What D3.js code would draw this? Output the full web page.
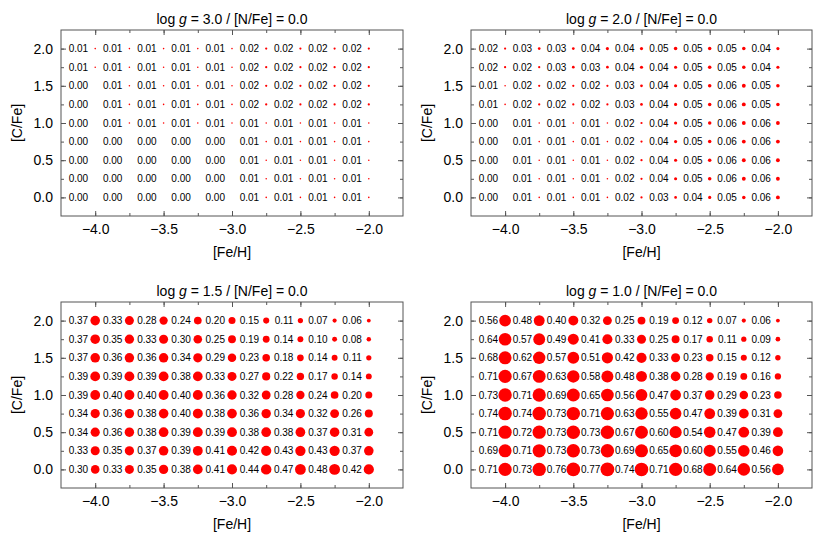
<!DOCTYPE html>
<html lang="en">
<head>
<meta charset="UTF-8">
<title>C/Fe grid</title>
<script src="https://d3js.org/d3.v7.min.js"></script>
<style>
    body { margin: 0; background: #fff; }
    svg { font-family: "Liberation Sans", Arial, sans-serif; }
    .frame { fill: none; stroke: #555; stroke-width: 1; }
    .tick line { stroke: #555; }
    .tick text { fill: #000; font-size: 14px; }
    .val { font-size: 10px; fill: #000; }
</style>
</head>
<body>
<script>
// grid positions
const feh = [-4.0, -3.75, -3.5, -3.25, -3.0, -2.75, -2.5, -2.25, -2.0];
const cfe = [2.0, 1.75, 1.5, 1.25, 1.0, 0.75, 0.5, 0.25, 0.0]; // rows top to bottom

const xMajor = [-4.0, -3.5, -3.0, -2.5, -2.0];
const yMajor = [0.0, 0.5, 1.0, 1.5, 2.0];

const titles = ["3.0", "2.0", "1.5", "1.0"]; // log g
const nfe = "0.0";

// values, one row per [C/Fe] (2.0 at top), one column per [Fe/H]
const vals30 = [
    [0.01, 0.01, 0.01, 0.01, 0.01, 0.02, 0.02, 0.02, 0.02],
    [0.01, 0.01, 0.01, 0.01, 0.01, 0.02, 0.02, 0.02, 0.02],
    [0.00, 0.01, 0.01, 0.01, 0.01, 0.02, 0.02, 0.02, 0.02],
    [0.00, 0.01, 0.01, 0.01, 0.01, 0.02, 0.02, 0.02, 0.02],
    [0.00, 0.01, 0.01, 0.01, 0.01, 0.01, 0.01, 0.01, 0.01],
    [0.00, 0.00, 0.00, 0.00, 0.00, 0.01, 0.01, 0.01, 0.01],
    [0.00, 0.00, 0.00, 0.00, 0.00, 0.01, 0.01, 0.01, 0.01],
    [0.00, 0.00, 0.00, 0.00, 0.00, 0.01, 0.01, 0.01, 0.01],
    [0.00, 0.00, 0.00, 0.00, 0.00, 0.01, 0.01, 0.01, 0.01]
];
const vals20 = [
    [0.02, 0.03, 0.03, 0.04, 0.04, 0.05, 0.05, 0.05, 0.04],
    [0.02, 0.02, 0.03, 0.03, 0.04, 0.04, 0.05, 0.05, 0.04],
    [0.01, 0.02, 0.02, 0.02, 0.03, 0.04, 0.05, 0.06, 0.05],
    [0.01, 0.02, 0.02, 0.02, 0.03, 0.04, 0.05, 0.06, 0.05],
    [0.00, 0.01, 0.01, 0.01, 0.02, 0.04, 0.05, 0.06, 0.06],
    [0.00, 0.01, 0.01, 0.01, 0.02, 0.04, 0.05, 0.06, 0.06],
    [0.00, 0.01, 0.01, 0.01, 0.02, 0.04, 0.05, 0.06, 0.06],
    [0.00, 0.01, 0.01, 0.01, 0.02, 0.04, 0.05, 0.06, 0.06],
    [0.00, 0.01, 0.01, 0.01, 0.02, 0.03, 0.04, 0.05, 0.06]
];
const vals15 = [
    [0.37, 0.33, 0.28, 0.24, 0.20, 0.15, 0.11, 0.07, 0.06],
    [0.37, 0.35, 0.33, 0.30, 0.25, 0.19, 0.14, 0.10, 0.08],
    [0.37, 0.36, 0.36, 0.34, 0.29, 0.23, 0.18, 0.14, 0.11],
    [0.39, 0.39, 0.39, 0.38, 0.33, 0.27, 0.22, 0.17, 0.14],
    [0.39, 0.40, 0.40, 0.40, 0.36, 0.32, 0.28, 0.24, 0.20],
    [0.34, 0.36, 0.38, 0.40, 0.38, 0.36, 0.34, 0.32, 0.26],
    [0.34, 0.36, 0.38, 0.39, 0.39, 0.38, 0.38, 0.37, 0.31],
    [0.33, 0.35, 0.37, 0.39, 0.41, 0.42, 0.43, 0.43, 0.37],
    [0.30, 0.33, 0.35, 0.38, 0.41, 0.44, 0.47, 0.48, 0.42]
];
const vals10 = [
    [0.56, 0.48, 0.40, 0.32, 0.25, 0.19, 0.12, 0.07, 0.06],
    [0.64, 0.57, 0.49, 0.41, 0.33, 0.25, 0.17, 0.11, 0.09],
    [0.68, 0.62, 0.57, 0.51, 0.42, 0.33, 0.23, 0.15, 0.12],
    [0.71, 0.67, 0.63, 0.58, 0.48, 0.38, 0.28, 0.19, 0.16],
    [0.73, 0.71, 0.69, 0.65, 0.56, 0.47, 0.37, 0.29, 0.23],
    [0.74, 0.74, 0.73, 0.71, 0.63, 0.55, 0.47, 0.39, 0.31],
    [0.71, 0.72, 0.73, 0.73, 0.67, 0.60, 0.54, 0.47, 0.39],
    [0.69, 0.71, 0.73, 0.73, 0.69, 0.65, 0.60, 0.55, 0.46],
    [0.71, 0.73, 0.76, 0.77, 0.74, 0.71, 0.68, 0.64, 0.56]
];
const allVals = [vals30, vals20, vals15, vals10];

const W = 830, H = 547;
const boxes = [
    { x0: 61, x1: 403, y0: 30, y1: 216 },
    { x0: 471, x1: 812, y0: 30, y1: 216 },
    { x0: 61, x1: 403, y0: 302, y1: 488 },
    { x0: 471, x1: 812, y0: 302, y1: 488 }
];

const svg = d3.select("body").append("svg")
    .attr("width", W)
    .attr("height", H);

const r = d3.scaleSqrt().domain([0, 0.77]).range([0, 6.9]);
const fmt = d3.format(".1f");

boxes.forEach((b, p) => {
    const x = d3.scaleLinear().domain([-4.25, -1.75]).range([b.x0, b.x1]);
    const y = d3.scaleLinear().domain([-0.25, 2.25]).range([b.y1, b.y0]);
    const g = svg.append("g");

    // ticks: minor (0.25) and major (0.5), inward on all four sides
    const mk = (axis, tr, vals, size, labels) => {
        const a = axis.tickValues(vals).tickSize(-size).tickPadding(labels ? 8 : 0)
            .tickFormat(labels ? fmt : "");
        const ga = g.append("g").attr("transform", tr).call(a);
        ga.select(".domain").remove();
        return ga;
    };
    mk(d3.axisBottom(x), `translate(0,${b.y1})`, feh, 3, false);
    mk(d3.axisTop(x), `translate(0,${b.y0})`, feh, 3, false);
    mk(d3.axisBottom(x), `translate(0,${b.y1})`, xMajor, 5, true);
    mk(d3.axisTop(x), `translate(0,${b.y0})`, xMajor, 5, false);
    const yv = cfe.slice().reverse();
    mk(d3.axisLeft(y), `translate(${b.x0},0)`, yv, 3, false);
    mk(d3.axisRight(y), `translate(${b.x1},0)`, yv, 3, false);
    mk(d3.axisLeft(y), `translate(${b.x0},0)`, yMajor, 5, true);
    mk(d3.axisRight(y), `translate(${b.x1},0)`, yMajor, 5, false);

    g.append("rect").attr("class", "frame")
        .attr("x", b.x0).attr("y", b.y0)
        .attr("width", b.x1 - b.x0).attr("height", b.y1 - b.y0);

    // cells
    const cells = [];
    allVals[p].forEach((row, i) => row.forEach((v, j) => cells.push({ fe: feh[j], c: cfe[i], v: v })));

    g.selectAll("circle").data(cells).enter().append("circle")
        .attr("cx", d => x(d.fe))
        .attr("cy", d => y(d.c))
        .attr("r", d => r(d.v))
        .attr("fill", "#ff0000");

    g.selectAll("text.val").data(cells).enter().append("text")
        .attr("class", "val")
        .attr("x", d => x(d.fe) - 7)
        .attr("y", d => y(d.c))
        .attr("dy", "0.35em")
        .attr("text-anchor", "end")
        .text(d => d.v.toFixed(2));

    // title
    const t = g.append("text")
        .attr("x", (b.x0 + b.x1) / 2)
        .attr("y", b.y0 - 6)
        .attr("text-anchor", "middle")
        .style("font-size", "14px");
    t.append("tspan").text("log ");
    t.append("tspan").style("font-style", "italic").text("g");
    t.append("tspan").text(` = ${titles[p]} / [N/Fe] = ${nfe}`);

    // axis titles
    g.append("text")
        .attr("x", (b.x0 + b.x1) / 2)
        .attr("y", b.y1 + 41)
        .attr("text-anchor", "middle")
        .style("font-size", "14px")
        .text("[Fe/H]");
    g.append("text")
        .attr("transform", `translate(${b.x0 - 39},${(b.y0 + b.y1) / 2}) rotate(-90)`)
        .attr("text-anchor", "middle")
        .style("font-size", "14px")
        .text("[C/Fe]");
});
</script>
</body>
</html>
